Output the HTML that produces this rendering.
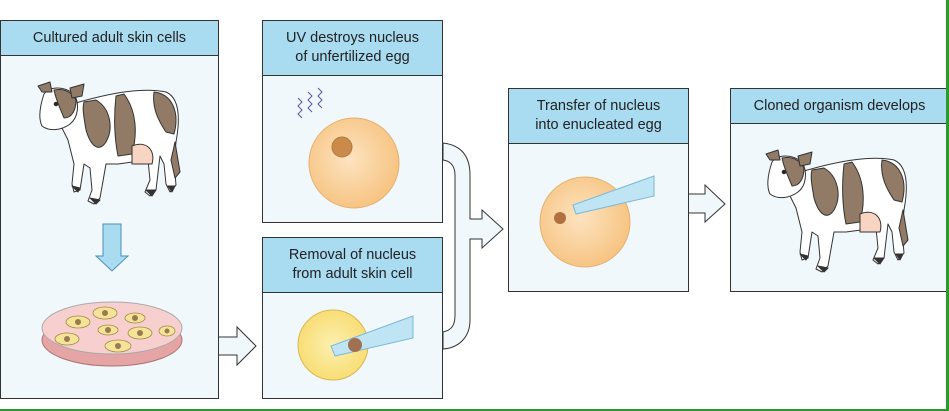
<!DOCTYPE html>
<html><head><meta charset="utf-8"><style>
html,body{margin:0;padding:0;background:#fff;}
body{width:949px;height:411px;position:relative;overflow:hidden;font-family:"Liberation Sans",sans-serif;}
.box{position:absolute;background:#f0f8fc;border:1px solid #333;box-sizing:border-box;}
.hd{background:#a9dbf1;border-bottom:1px solid #333;text-align:center;font-size:14.5px;line-height:19px;color:#222;box-sizing:border-box;display:flex;align-items:center;justify-content:center;}
svg{position:absolute;left:0;top:0;}
</style></head><body>
<div class="box" style="left:0;top:20px;width:219px;height:379px"><div class="hd" style="height:35px">Cultured adult skin cells</div></div>
<div class="box" style="left:262px;top:20px;width:181px;height:203px"><div class="hd" style="height:55px">UV destroys nucleus<br>of unfertilized egg</div></div>
<div class="box" style="left:262px;top:237px;width:181px;height:162px"><div class="hd" style="height:55px">Removal of nucleus<br>from adult skin cell</div></div>
<div class="box" style="left:508px;top:88px;width:181px;height:204px"><div class="hd" style="height:55px">Transfer of nucleus<br>into enucleated egg</div></div>
<div class="box" style="left:730px;top:88px;width:219px;height:204px"><div class="hd" style="height:35px">Cloned organism develops</div></div>
<div style="position:absolute;left:0;top:409px;width:949px;height:2px;background:#2a9a2a"></div>
<div style="position:absolute;left:946px;top:0;width:3px;height:411px;background:#2a9a2a"></div>
<svg width="949" height="411" viewBox="0 0 949 411">
<defs>
<radialGradient id="egg" cx="0.45" cy="0.45" r="0.6"><stop offset="0" stop-color="#fde3c0"/><stop offset="1" stop-color="#f6c27e"/></radialGradient>
<radialGradient id="yel" cx="0.5" cy="0.5" r="0.6"><stop offset="0" stop-color="#fdf0b0"/><stop offset="1" stop-color="#f7da6a"/></radialGradient>
<g id="cow" stroke="#333" stroke-width="1" stroke-linejoin="round">
<path d="M28,26 C60,16 100,6 128,12 C142,18 142,40 138,62 L136,82 L138,105 L132,112 L128,104 L126,84 L122,76 L118,110 L112,116 L107,112 L112,100 L110,80 L80,84 L68,84 L62,118 L56,124 L50,121 L54,110 L52,88 L46,84 L42,110 L36,112 L34,104 L36,84 L30,60 L22,44 Z" fill="#fff"/>
<path d="M58,20 C72,28 76,48 68,62 C60,74 52,64 48,50 C46,38 44,28 46,22 Z" fill="#917a66"/>
<path d="M86,14 C98,30 100,52 94,74 L80,76 C76,56 76,34 78,16 Z" fill="#917a66"/>
<path d="M116,12 C134,14 142,32 136,54 L128,52 C120,40 114,28 116,12 Z" fill="#917a66"/>
<path d="M94,66 C108,60 118,70 114,84 L94,84 Z" fill="#f8d5c2"/>
<path d="M137,62 L142,92 L137,98 L133,80 Z" fill="#917a66"/>
<path d="M6,14 C12,6 26,6 36,14 C42,24 40,38 32,44 C24,50 12,52 4,46 C0,38 2,26 6,14 Z" fill="#fff"/>
<path d="M16,10 C26,8 34,12 38,20 C38,30 34,38 26,38 C22,28 18,20 16,10Z" fill="#917a66"/>
<path d="M0,6 L12,2 L14,12 L4,12 Z" fill="#917a66"/>
<path d="M32,8 L46,4 L44,16 L34,18 Z" fill="#917a66"/>
<circle cx="18" cy="24" r="1.8" fill="#222"/>
<path d="M52,118 L58,124 L62,120 Z M34,106 L40,112 L42,108 Z M108,110 L114,116 L118,110 Z M130,106 L134,112 L137,106 Z" fill="#333"/>
</g>
</defs>
<use href="#cow" transform="translate(38,80)"/>
<use href="#cow" transform="translate(766,148)"/>
<path d="M103,224 L121,224 L121,256 L128,256 L112,271 L96,256 L103,256 Z" fill="#a9dbf1" stroke="#4a90b8" stroke-width="1"/>
<ellipse cx="112" cy="340" rx="70" ry="26" fill="#e5a5a5" stroke="#b07070"/>
<ellipse cx="112" cy="328" rx="70" ry="26" fill="#f7cfcf" stroke="#aaa"/>
<g fill="#f6e39a" stroke="#a08a40" stroke-width="0.8">
<ellipse cx="105" cy="313" rx="12" ry="6"/><ellipse cx="135" cy="318" rx="10" ry="5"/><ellipse cx="78" cy="322" rx="12" ry="6"/>
<ellipse cx="108" cy="330" rx="10" ry="5"/><ellipse cx="140" cy="333" rx="12" ry="6"/><ellipse cx="167" cy="331" rx="8" ry="5"/>
<ellipse cx="67" cy="339" rx="12" ry="6"/><ellipse cx="118" cy="346" rx="13" ry="6"/></g>
<g fill="#9a7a50"><circle cx="105" cy="313" r="3"/><circle cx="135" cy="318" r="3"/><circle cx="78" cy="322" r="3"/><circle cx="108" cy="330" r="3"/><circle cx="140" cy="333" r="3"/><circle cx="167" cy="331" r="2.5"/><circle cx="67" cy="339" r="3"/><circle cx="118" cy="346" r="3"/></g>
<g fill="none" stroke="#5a5a9a" stroke-width="1"><path d="M298,98 l4,4 -4,4 4,4 -4,4 4,4"/><path d="M308,92 l4,4 -4,4 4,4 -4,4 4,4"/><path d="M318,88 l4,4 -4,4 4,4 -4,4 4,4"/></g>
<circle cx="354" cy="163" r="45" fill="url(#egg)" stroke="#e6b070"/>
<circle cx="342" cy="147" r="10" fill="#c98a4a" stroke="#b57840"/>
<circle cx="333" cy="345" r="35" fill="url(#yel)" stroke="#d9b850"/>
<path d="M413,316 L413,338 L335,356 L331,346 Z" fill="#bfe4f4" stroke="#7ab8d8"/>
<circle cx="355" cy="345" r="7" fill="#a07050"/>
<circle cx="585" cy="222" r="45" fill="url(#egg)" stroke="#e6b070"/>
<circle cx="560" cy="218" r="6" fill="#b07040"/>
<path d="M654,176 L654,196 L576,214 L573,205 Z" fill="#bfe4f4" stroke="#7ab8d8"/>
<path d="M219,337 L237,337 L237,327 L256,346 L237,365 L237,355 L219,355" fill="#f0f8fc" stroke="#333"/>
<path d="M443,143 C460,145 470,155 470,175 L470,219 L482,219 L482,210 L503,229 L482,248 L482,239 L470,239 L470,320 C470,338 458,348 443,349 L443,332 C452,330 455,325 455,315 L455,175 C455,168 452,161 443,160 Z" fill="#f0f8fc" stroke="#333"/>
<path d="M689,194 L705,194 L705,185 L725,204 L705,222 L705,213 L689,213" fill="#f0f8fc" stroke="#333"/>
</svg>
</body></html>
